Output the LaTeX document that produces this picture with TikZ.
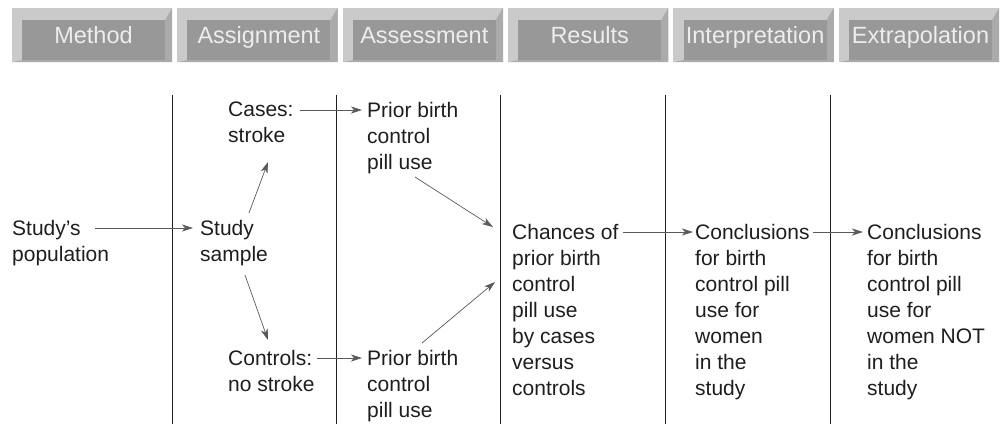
\documentclass[tikz,border=0pt]{standalone}
\usepackage{fontspec}
\setmainfont{Liberation Sans}
\usepackage{tikz}
\usetikzlibrary{arrows.meta,positioning,backgrounds}
\definecolor{TabLight}{HTML}{CACACA}
\definecolor{TabShade}{HTML}{ABABAB}
\definecolor{TabFace}{HTML}{989898}
\definecolor{TabText}{HTML}{EDEDED}
\definecolor{Ink}{HTML}{1E1E1E}
\definecolor{Wire}{HTML}{5A5A5A}

\begin{document}
\begin{tikzpicture}[x=1pt,y=-1pt,
  every node/.style={font=\fontsize{21}{26}\selectfont,align=left,inner sep=0pt,text=Ink},
  tab/.style={fill=TabFace,text=TabText,font=\fontsize{23.5}{26}\selectfont,minimum width=143pt,minimum height=40pt,text height=17pt,text depth=10pt},
  txt/.style={anchor=north west},
  arr/.style={-{Stealth[length=11pt,width=7pt,inset=3pt]},Wire,line width=0.7pt},
  sep/.style={Ink,line width=0.9pt}
]
\useasboundingbox (0,0) rectangle (1005,424);
% header tabs
\node[tab] (method) at (93.5,40) {Method};
\node[tab,right=22pt of method] (assign) {Assignment};
\node[tab,right=22pt of assign] (assess) {Assessment};
\node[tab,right=22pt of assess] (results) {Results};
\node[tab,right=22pt of results] (interp) {Interpretation};
\node[tab,right=22pt of interp] (extrap) {Extrapolation};
\begin{scope}[on background layer]
\foreach \t in {method,assign,assess,results,interp,extrap}{
  \fill[TabLight] ([shift={(-10,-12)}]\t.north west) rectangle ([shift={(7,2)}]\t.south east);
  \fill[TabShade] (\t.north east) -- ([shift={(7,-12)}]\t.north east) -- ([shift={(7,2)}]\t.south east)
    -- ([shift={(-10,2)}]\t.south west) -- (\t.south west) -- cycle;
}
\end{scope}
% column rules
\foreach \x in {172.5,336.5,500,665,830}
  \draw[sep] (\x,95) -- (\x,424);
% texts
\node[txt] (pop) at (12,220) {Study’s\\population};
\node[txt] (sample) at (200,220) {Study\\sample};
\node[txt] (cases) at (228,102) {Cases:\\stroke};
\node[txt] (ctrls) at (228,350) {Controls:\\no stroke};
\node[txt] (usecase) at (367,102) {Prior birth\\control\\pill use};
\node[txt] (usectrl) at (367,350) {Prior birth\\control\\pill use};
\node[txt] (chances) at (512,224) {Chances of\\prior birth\\control\\pill use\\by cases\\versus\\controls};
\node[txt] (concl) at (695,224) {Conclusions\\for birth\\control pill\\use for\\women\\in the\\study};
\node[txt] (extra) at (867,224) {Conclusions\\for birth\\control pill\\use for\\women NOT\\in the\\study};
% arrows
\draw[arr] ([shift={(83,8)}]pop.north west) -- ([shift={(-7,8)}]sample.north west);
\draw[arr] ([shift={(49,-7)}]sample.north west) -- ([shift={(40,60)}]cases.north west);
\draw[arr] ([shift={(45,55)}]sample.north west) -- ([shift={(40,-10)}]ctrls.north west);
\draw[arr] ([shift={(72,8)}]cases.north west) -- ([shift={(-5,8)}]usecase.north west);
\draw[arr] ([shift={(89,8)}]ctrls.north west) -- ([shift={(-5,8)}]usectrl.north west);
\draw[arr] ([shift={(48,75)}]usecase.north west) -- ([shift={(-19,3)}]chances.north west);
\draw[arr] ([shift={(55,-7)}]usectrl.north west) -- ([shift={(-17,58)}]chances.north west);
\draw[arr] ([shift={(111,8)}]chances.north west) -- ([shift={(-2,8)}]concl.north west);
\draw[arr] ([shift={(118,8)}]concl.north west) -- ([shift={(-4,8)}]extra.north west);
\end{tikzpicture}
\end{document}
